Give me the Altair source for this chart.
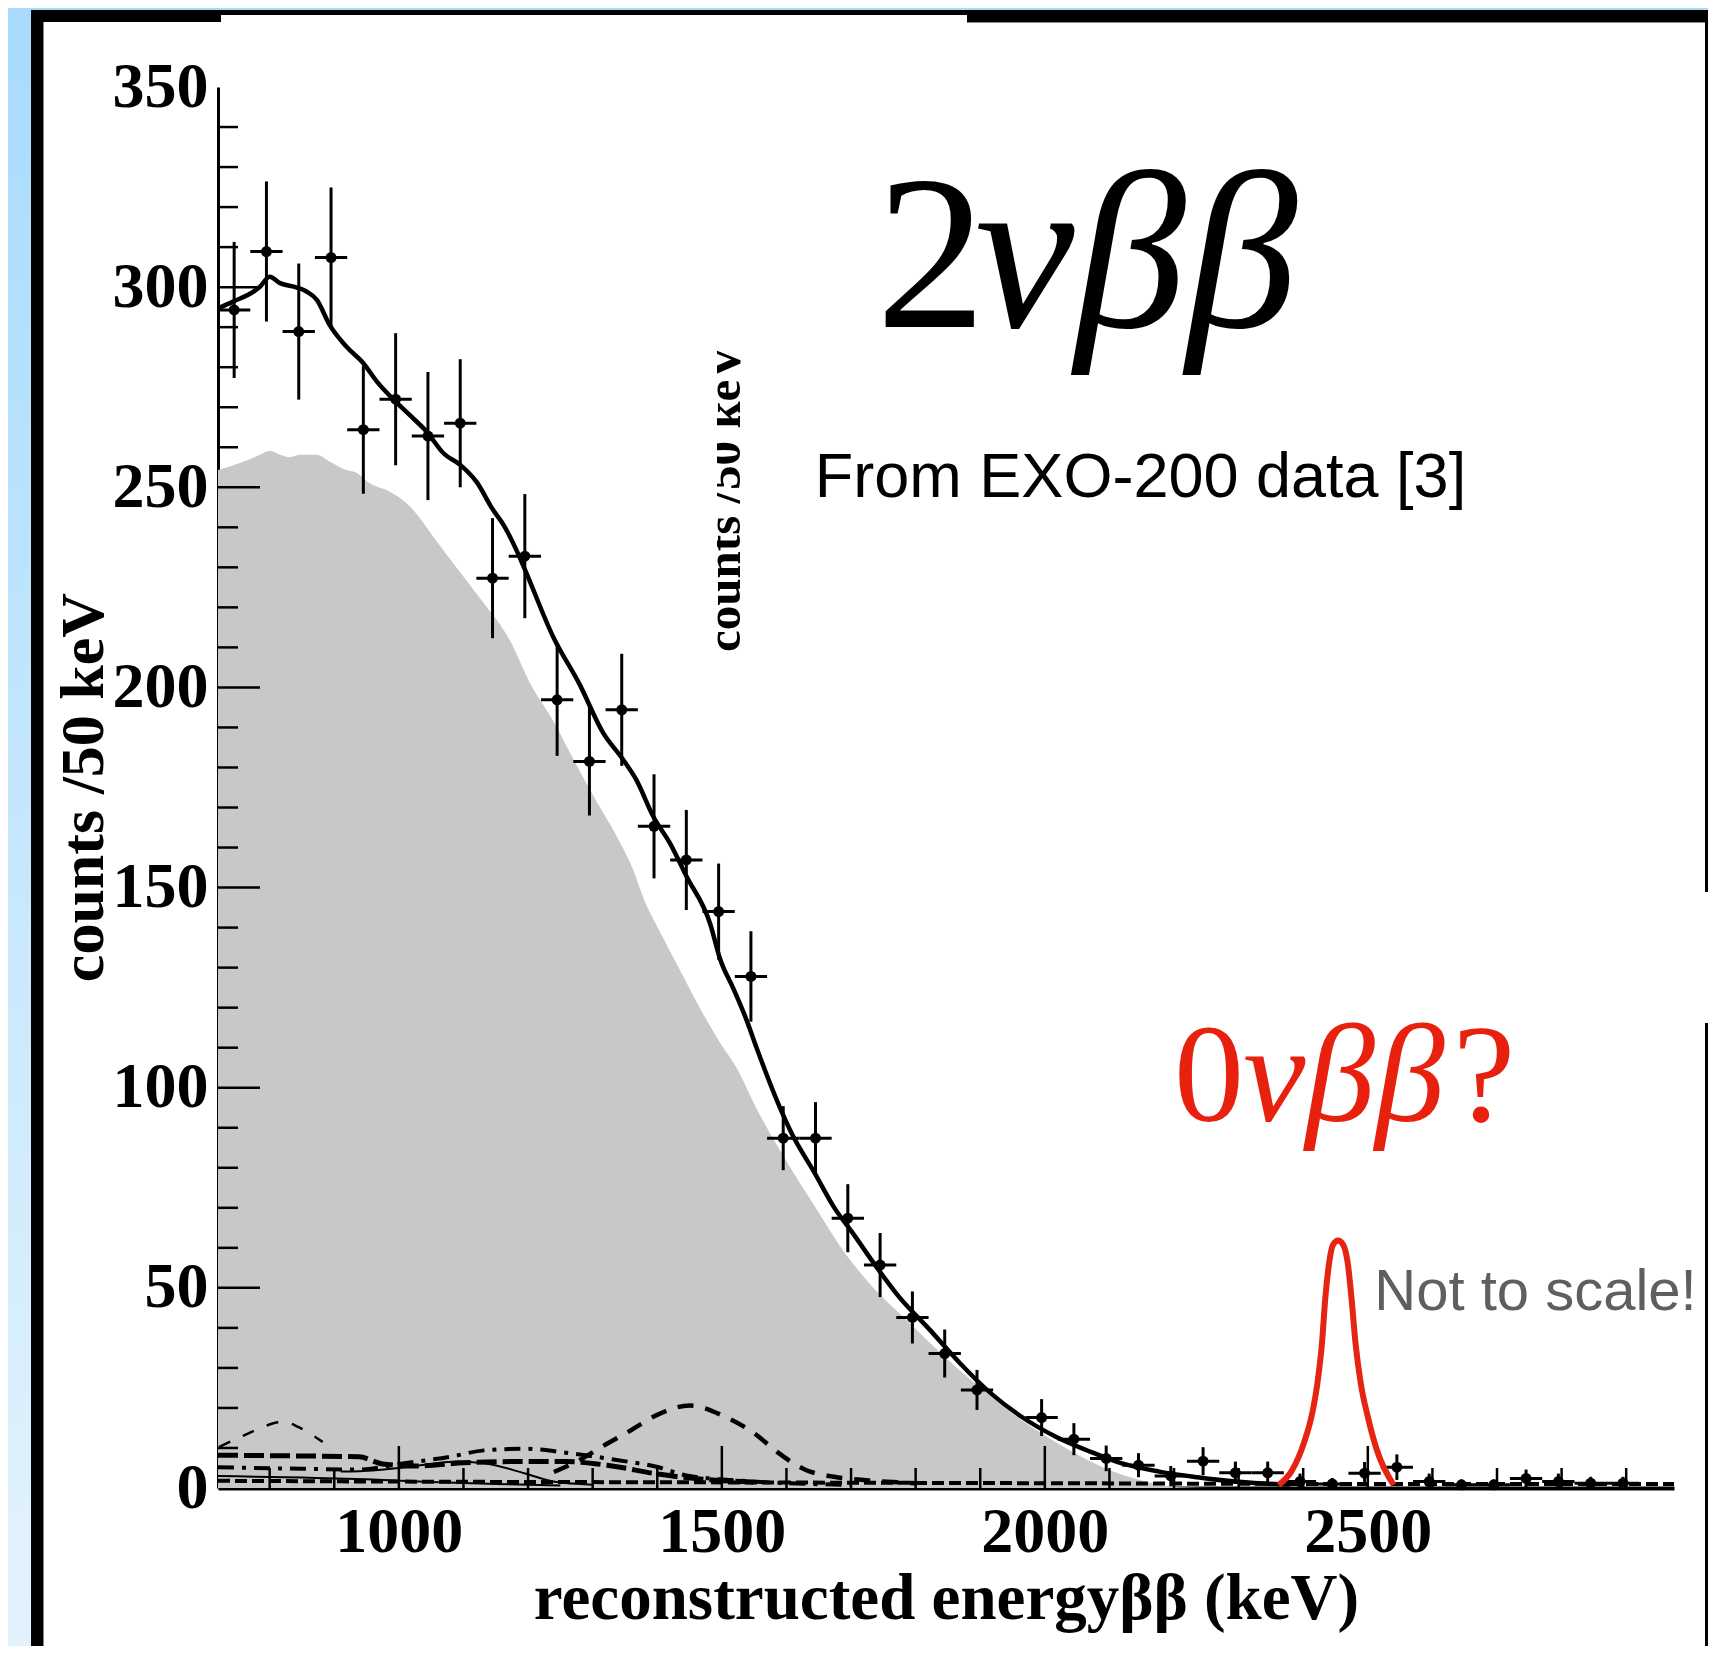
import altair as alt
import pandas as pd

# ------------------------------------------------------------------ data
bin_center_kev = [745, 795, 845, 895, 945, 995, 1045, 1095, 1145, 1195,
                  1245, 1295, 1345, 1395, 1445, 1495, 1545, 1595, 1645, 1695,
                  1745, 1795, 1845, 1895,
                  1995, 2045, 2095, 2145, 2195, 2245, 2295, 2345, 2395, 2445,
                  2495, 2545, 2595, 2645, 2695, 2745, 2795, 2845, 2895]
counts_per_bin = [294.3, 308.9, 288.9, 307.4, 264.4, 272.0, 262.8, 266.0, 227.3, 232.8,
                  196.9, 181.5, 194.4, 165.3, 156.9, 144.0, 127.8, 87.4, 87.4, 67.4,
                  55.7, 42.6, 33.6, 24.5,
                  17.6, 12.2, 7.4, 5.7, 3.0, 6.7, 3.8, 3.8, 1.6, 1.0,
                  3.7, 5.2, 1.6, 0.8, 0.8, 2.4, 1.6, 1.2, 1.2]
count_errors = [17, 17.5, 17, 17.5, 16, 16.5, 16, 16, 15, 15.5,
                14, 13.5, 14, 13, 12.5, 12, 11.3, 8, 9, 8.5,
                8, 6.5, 6, 5,
                4.6, 4, 3.2, 3, 2.5, 3.5, 2.8, 2.8, 2, 1.5,
                2.8, 3.2, 2, 1.3, 1.3, 2.2, 2, 1.6, 1.6]
half_bin_kev = 25

fit_curve = [(720, 294.7), (745, 296.5), (775, 298.9), (785, 300.1), (800, 302.6),
             (816, 301.0), (842, 299.9), (857, 298.9), (873, 296.8), (893, 290.5),
             (919, 285.1), (945, 281.0), (966, 276.4), (990, 272.2), (1017, 268.0),
             (1043, 263.9), (1069, 258.5), (1095, 255.6), (1120, 251.4), (1146, 244.3),
             (1162, 240.6), (1182, 234.3), (1195, 229.5), (1239, 212.6), (1280, 200.7),
             (1316, 188.7), (1347, 182.0), (1368, 176.8), (1394, 167.7), (1420, 161.0),
             (1445, 152.9), (1482, 140.9), (1497, 132.3), (1518, 124.7), (1538, 117.0),
             (1555, 109.4), (1585, 96.9), (1608, 88.6), (1644, 78.6), (1673, 70.3),
             (1703, 63.6), (1739, 55.3), (1774, 47.8), (1822, 39.5), (1869, 31.1),
             (1916, 23.7), (1964, 17.8), (2017, 12.8), (2070, 9.1), (2118, 6.2),
             (2177, 4.1), (2236, 2.7), (2296, 1.6), (2355, 1.0), (2380, 0.9)]

two_nu_component = [(720, 254.3), (759, 256.4), (785, 258.1), (800, 259.1), (816, 258.1),
                    (831, 257.5), (847, 258.1), (873, 258.1), (893, 256.4), (919, 254.3),
                    (935, 253.6), (955, 251.0), (986, 248.9), (1012, 246.0), (1033, 242.2),
                    (1053, 237.7), (1090, 229.8), (1126, 222.2),
                    (1172, 211.7), (1203, 201.1), (1239, 191.6), (1275, 180.6), (1306, 171.5),
                    (1337, 162.9), (1363, 154.3), (1378, 147.6), (1404, 139.0), (1435, 129.4),
                    (1466, 119.9), (1497, 111.3), (1522, 105.2), (1555, 94.4), (1602, 81.1),
                    (1644, 70.3), (1691, 58.6), (1733, 50.3), (1786, 42.0), (1845, 32.8),
                    (1904, 24.5), (1964, 17.0), (2029, 10.3), (2088, 5.3), (2147, 2.0),
                    (2207, 0.2), (2260, 0.0)]

bkg_dashed_peak = [(1240, 4.0), (1280, 7.0), (1314, 10.3), (1360, 14.5), (1399, 18.2),
                   (1450, 20.6), (1505, 17.8), (1550, 13.7), (1585, 9.1), (1630, 4.5),
                   (1674, 2.8), (1727, 1.9), (1800, 1.2)]
bkg_dashed_small = [(722, 10.3), (768, 13.7), (795, 15.6), (820, 16.6), (845, 15.2),
                    (870, 12.8), (882, 11.5)]
bkg_dashdot = [(720, 5.2), (850, 4.8), (940, 4.6), (1000, 6.0), (1079, 7.8), (1132, 9.4),
               (1194, 9.8), (1265, 8.7), (1337, 7.0), (1399, 5.3), (1443, 3.2), (1514, 2.0),
               (1600, 1.2), (1700, 0.8)]
bkg_thick_dashed = [(720, 8.2), (850, 8.0), (938, 7.8), (975, 6.0), (1030, 5.5), (1100, 6.3),
                    (1180, 6.6), (1260, 6.6), (1330, 5.5), (1400, 3.5), (1470, 2.2), (1550, 1.5)]
bkg_thin_bump = [(910, 4.1), (960, 4.4), (1000, 5.0), (1050, 6.0), (1088, 6.6), (1132, 6.2),
                 (1194, 3.7), (1239, 1.6), (1300, 0.8)]
bkg_thin_low = [(720, 3.0), (850, 2.6), (950, 2.2), (1050, 1.5), (1150, 1.0), (1250, 0.6)]
bkg_baseline = [(720, 1.8), (1000, 1.6), (1500, 1.4), (2000, 1.2), (2500, 1.0), (2974, 1.0)]

zero_nu_peak = [(2362, 0.75), (2383, 4.5), (2401, 11.2), (2415, 19.5), (2422, 26.2),
                (2429, 36.1), (2434, 47.0), (2440, 56.1), (2446, 60.7), (2454, 61.8),
                (2462, 60.7), (2469, 56.1), (2475, 47.0), (2481, 36.1), (2489, 26.2),
                (2500, 17.8), (2514, 9.5), (2540, 0.75)]

x_label_values = [1000, 1500, 2000, 2500]
y_label_values = [0, 50, 100, 150, 200, 250, 300, 350]
x_major_ticks = [1000, 1500, 2000, 2500]
x_minor_ticks = [800, 900, 1100, 1200, 1300, 1400, 1600, 1700, 1800, 1900,
                 2100, 2200, 2300, 2400, 2600, 2700, 2800, 2900]
y_major_ticks = [50, 100, 150, 200, 250, 300]
y_minor_ticks = [10, 20, 30, 40, 60, 70, 80, 90, 110, 120, 130, 140, 160, 170, 180, 190,
                 210, 220, 230, 240, 260, 270, 280, 290, 310, 320, 330, 340]

# ------------------------------------------------------------------ helpers
SERIF = "Liberation Serif"
SANS = "Liberation Sans"
X_SCALE = alt.Scale(domain=[720, 2974], nice=False, zero=False)
Y_SCALE = alt.Scale(domain=[0, 350], nice=False, zero=False)


def curve_df(pairs):
    return pd.DataFrame(pairs, columns=["e", "c"])


def ex(field="e"):
    return alt.X(f"{field}:Q", scale=X_SCALE)


def ey(field="c"):
    return alt.Y(f"{field}:Q", scale=Y_SCALE)


x_axis = alt.Axis(values=x_label_values, format="d", title="reconstructed energyββ (keV)",
                  labelFont=SERIF, labelFontWeight="bold", labelFontSize=64, labelColor="black",
                  labelPadding=12, labelFlush=False, labelOverlap=False,
                  ticks=False, tickSize=0, grid=False,
                  domainColor="black", domainWidth=4,
                  titleFont=SERIF, titleFontWeight="bold", titleFontSize=65, titleColor="black",
                  titleY=130, titleBaseline="alphabetic")
y_axis = alt.Axis(values=y_label_values, format="d", title="counts /50 keV",
                  labelFont=SERIF, labelFontWeight="bold", labelFontSize=64, labelColor="black",
                  labelPadding=10, labelFlush=False, labelOverlap=False,
                  ticks=False, tickSize=0, grid=False,
                  domainColor="black", domainWidth=3,
                  titleFont=SERIF, titleFontWeight="bold", titleFontSize=62, titleColor="black",
                  titleX=-135, titleY=700, titleAngle=270, titleBaseline="middle")

one_row = pd.DataFrame({"k": [0]})

# ------------------------------------------------------------------ layers
gray = alt.Chart(curve_df(two_nu_component)).mark_area(
    color="#c8c8c8", interpolate="monotone"
).encode(
    x=alt.X("e:Q", scale=X_SCALE, axis=x_axis),
    y=alt.Y("c:Q", scale=Y_SCALE, axis=y_axis, stack=None),
)


def comp(pairs, width, dash=None):
    kw = dict(color="black", strokeWidth=width, interpolate="monotone")
    if dash:
        kw["strokeDash"] = dash
    return alt.Chart(curve_df(pairs)).mark_line(**kw).encode(x=ex(), y=ey())


comps = [
    comp(bkg_baseline, 4, [12, 5]),
    comp(bkg_thin_low, 2),
    comp(bkg_thin_bump, 2),
    comp(bkg_thick_dashed, 5, [20, 6]),
    comp(bkg_dashdot, 4, [16, 8, 4, 8]),
    comp(bkg_dashed_small, 2.5, [12, 14]),
    comp(bkg_dashed_peak, 4.5, [16, 12]),
]


# inward ticks
def yticks(vals, length):
    return alt.Chart(pd.DataFrame({"v": vals})).mark_rule(color="black", strokeWidth=2.5).encode(
        y=alt.Y("v:Q", scale=Y_SCALE), x=alt.value(0), x2=alt.value(length))


def xticks(vals, length):
    return alt.Chart(pd.DataFrame({"v": vals})).mark_rule(color="black", strokeWidth=2.5).encode(
        x=alt.X("v:Q", scale=X_SCALE), y=alt.value(1401), y2=alt.value(1401 - length))


ticks = [yticks(y_minor_ticks, 20), yticks(y_major_ticks, 42),
         xticks(x_minor_ticks, 20), xticks(x_major_ticks, 42)]

fit = alt.Chart(curve_df(fit_curve)).mark_line(
    color="black", strokeWidth=4.5, interpolate="monotone"
).encode(x=ex(), y=ey())

pts_df = pd.DataFrame({"e": bin_center_kev, "c": counts_per_bin, "err": count_errors})
pts_base = alt.Chart(pts_df).transform_calculate(
    lo="datum.c - datum.err", hi="datum.c + datum.err",
    el=f"datum.e - {half_bin_kev}", eh=f"datum.e + {half_bin_kev}")
vbars = pts_base.mark_rule(color="black", strokeWidth=3).encode(
    x=ex(), y=ey("lo"), y2="hi:Q")
hbars = pts_base.mark_rule(color="black", strokeWidth=3).encode(
    x=ex("el"), x2="eh:Q", y=ey())
dots = pts_base.mark_circle(color="black", size=120, opacity=1).encode(x=ex(), y=ey())

red_peak = alt.Chart(curve_df(zero_nu_peak)).mark_line(
    color="#e52412", strokeWidth=6, interpolate="monotone"
).encode(x=ex(), y=ey())


def label(text, e, c, size, font=SERIF, style="normal", weight="normal", color="black", angle=None,
          align="left"):
    kw = dict(text=text, font=font, fontSize=size, fontStyle=style, fontWeight=weight,
              color=color, align=align, baseline="alphabetic")
    if angle is not None:
        kw["angle"] = angle
    return alt.Chart(one_row).mark_text(**kw).encode(x=alt.datum(e), y=alt.datum(c))


texts = [
    label("2", 1738.6, 290.0, 220),
    label("νββ", 1892, 290.0, 224, style="italic"),
    label("From EXO-200 data [3]", 1644, 247.6, 63, font=SANS),
    label("0", 2200, 91.7, 140, color="#e8210f"),
    label("νββ", 2307, 91.7, 140, style="italic", color="#e8210f"),
    label("?", 2632, 91.7, 140, color="#e8210f"),
    label("Not to scale!", 2510, 44.5, 58, font=SANS, color="#5f5f5f"),
    label("counts /50 keV", 1528, 247.3, 49, weight="bold", angle=270, align="center"),
]


def deco(x1, x2, y1, y2, fill):
    return alt.Chart(one_row).mark_rect(fill=fill, strokeWidth=0).encode(
        x=alt.value(x1), x2=alt.value(x2), y=alt.value(y1), y2=alt.value(y2))


blue_grad = alt.Gradient(gradient="linear",
                         stops=[alt.GradientStop(color="#a8dbfd", offset=0),
                                alt.GradientStop(color="#e3f3fd", offset=1)],
                         x1=0, x2=0, y1=0, y2=1)

decos = [
    deco(472, 499, 243, 603, "white"),          # clip of the stray rotated label
    deco(-210, -187, -79, 1559, blue_grad),     # blue left strip
    deco(-210, 1490, -79, -77, "#a8dbfd"),      # blue top strip
    deco(-187, -175, -77, 1559, "black"),       # black left band
    deco(-175, -174, -65, 1559, "#888888"),
    deco(-187, 1490, -77, -65, "black"),        # black top band
    deco(3, 749, -72, -65, "white"),
    deco(749, 1490, -65, -64, "#888888"),
    deco(1487, 1490, -67, 805, "black"),        # right edge line
    deco(1487, 1490, 936, 1559, "black"),
]

chart = alt.layer(
    gray, *comps, *ticks, fit, vbars, hbars, dots, red_peak, *texts, *decos
).properties(
    width=1456, height=1401,
    padding={"left": 210, "top": 79, "right": 34, "bottom": 158},
    autosize=alt.AutoSizeParams(type="none"),
    background="white",
).configure_view(stroke=None)

chart.save("out.html", embed_options={"renderer": "svg", "actions": False})
